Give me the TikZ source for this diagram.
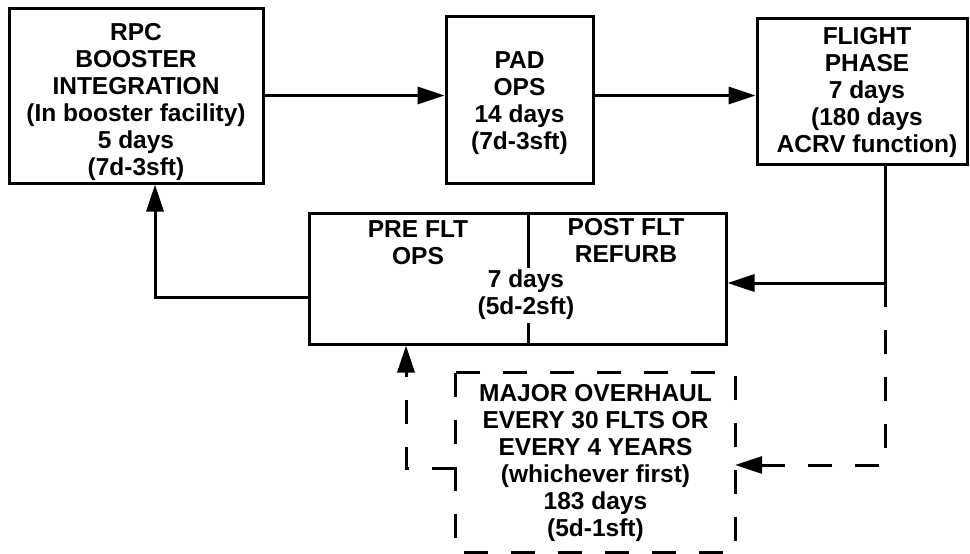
\documentclass[tikz,border=0pt]{standalone}
\usepackage{fontspec}
\setmainfont{Liberation Sans}
\usetikzlibrary{arrows.meta}
\begin{document}
\begin{tikzpicture}[x=1pt,y=1pt,
  every node/.style={font=\bfseries\fontsize{24.5}{27}\selectfont, align=center, inner sep=0pt},
  box/.style={draw, line width=3pt},
  conn/.style={line width=3pt},
  tip/.style={-{Triangle[length=27pt,width=17pt]}},
  dashline/.style={line width=3pt, dash pattern=on 24pt off 23pt}]
\useasboundingbox (0,0) rectangle (970,-554);
\fill[white] (0,0) rectangle (970,-554);
% boxes
\node[box, minimum width=254pt, minimum height=175pt] (rpc) at (136,-95.5) {};
\node (rpctxt) at (136,-102)
  {RPC\\BOOSTER\\INTEGRATION\\(In booster facility)\\5 days\\(7d-3sft)};
\node[box, minimum width=147pt, minimum height=167pt] (pad) at (519.5,-99.5) {};
\node (padtxt) at (519.5,-103) {PAD\\OPS\\14 days\\(7d-3sft)};
\node[box, minimum width=210pt, minimum height=146pt] (flt) at (862,-91) {};
\node (flttxt) at (867,-92) {FLIGHT\\PHASE\\7 days\\(180 days\\ACRV function)};
\node[box, minimum width=417pt, minimum height=131pt] (pre) at (517.5,-278.5) {};
\node (pretxt) at (418,-243) {PRE FLT\\OPS};
\node (posttxt) at (626,-241) {POST FLT\\REFURB};
\node (pretime) at (526,-295) {7 days\\(5d-2sft)};
\node[minimum width=279pt, minimum height=179pt] (maj) at (595.5,-462.5)
  {MAJOR OVERHAUL\\EVERY 30 FLTS OR\\EVERY 4 YEARS\\(whichever first)\\183 days\\(5d-1sft)};
\draw[dashline] (maj.north west) rectangle (maj.south east);
% divider in the PRE/POST box
\coordinate (dv) at (528.5,-268);
\coordinate (dw) at (528.5,-323);
\draw[conn] (pre.north -| dv) -- (dv);
\draw[conn] (dw) -- (pre.south -| dw);
% connectors
\draw[conn, tip] (rpc.east) -- (rpc.east -| pad.west);
\draw[conn, tip] (pad.east |- rpc.east) -- (flt.west |- rpc.east);
\coordinate (j1) at (885,-283);
\coordinate (j2) at (885,-465);
\draw[conn] (flt.south -| j1) -- (j1);
\draw[conn, tip] (j1) -- (j1 -| pre.east);
\draw[dashline, tip] (j1) -- (j2) -- (j2 -| maj.east);
\coordinate (c1) at (155,-297);
\draw[conn, tip] (pre.west |- c1) -- (c1) -- (c1 |- rpc.south);
\coordinate (c2) at (406,-468);
\draw[dashline, tip] (maj.west |- c2) -- (c2) -- (c2 |- pre.south);
\end{tikzpicture}
\end{document}
